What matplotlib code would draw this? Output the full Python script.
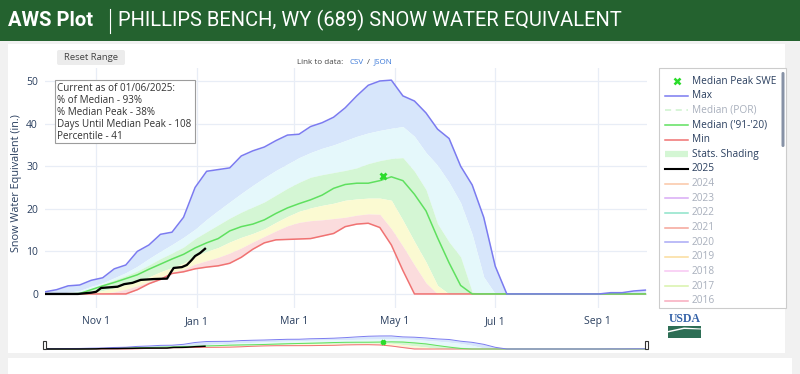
import numpy as np
import matplotlib
matplotlib.use("Agg")
import matplotlib.pyplot as plt
from matplotlib.patches import Rectangle, FancyBboxPatch, Polygon

plt.rcParams['font.family'] = ['Open Sans', 'DejaVu Sans']

# ---- data (day of water year, Oct 1 = 0) ----
days = np.arange(0, 365, 7)
max_swe = [0.5, 1.0, 1.9, 2.1, 3.2, 3.8, 5.9, 6.8, 10.0, 11.5, 14.0, 14.5,
           18.0, 25.0, 28.8, 29.2, 29.6, 32.4, 33.6, 34.5, 36.0, 37.3, 37.5, 39.3,
           40.2, 41.5, 43.7, 46.5, 49.0, 50.0, 50.2, 46.5, 45.3, 42.5, 38.7, 36.5,
           30.0, 25.6, 18.0, 6.5, 0, 0, 0, 0, 0, 0, 0, 0, 0, 0.3, 0.3, 0.7, 0.9]
p90 = [0, 0.1, 0.4, 0.8, 1.8, 2.6, 3.8, 5.0, 6.5, 8.3, 10.0, 11.6, 13.3, 15.2,
       17.5, 19.6, 21.6, 23.6, 25.5, 27.3, 29.0, 30.5, 32.0, 33.2, 34.2, 35.0,
       36.0, 37.0, 37.8, 38.4, 38.9, 39.3, 37.0, 33.2, 30.2, 26.2, 21.4, 14.0,
       4.0, 0, 0, 0, 0, 0, 0, 0, 0, 0, 0, 0, 0, 0, 0]
p70 = [0, 0, 0, 0.2, 1.3, 2.3, 3.3, 4.3, 5.4, 6.8, 8.3, 9.6, 11.0, 13.0,
       14.6, 16.2, 17.8, 19.2, 20.4, 21.6, 23.2, 24.8, 26.2, 27.4, 28.0, 28.5,
       29.0, 29.6, 30.6, 31.3, 31.8, 32.0, 28.8, 24.5, 16.5, 12.2, 8.7, 0.5,
       0, 0, 0, 0, 0, 0, 0, 0, 0, 0, 0, 0, 0, 0, 0]
median = [0, 0, 0, 0.1, 1.0, 1.9, 2.7, 3.6, 4.5, 5.8, 7.0, 8.2, 9.3, 10.8,
          12.0, 13.0, 14.8, 15.8, 16.4, 17.4, 18.9, 20.2, 21.2, 22.1, 23.2, 24.8,
          25.7, 26.0, 26.0, 26.6, 27.5, 26.6, 23.4, 19.5, 13.2, 7.3, 2.0, 0,
          0, 0, 0, 0, 0, 0, 0, 0, 0, 0, 0, 0, 0, 0, 0]
p30 = [0, 0, 0, 0, 0.3, 0.8, 1.4, 2.2, 3.0, 4.0, 5.2, 6.2, 7.2, 8.9,
       10.0, 10.9, 12.2, 13.3, 14.2, 15.3, 16.8, 18.2, 19.4, 20.2, 20.8, 21.3,
       22.0, 22.3, 22.5, 22.5, 22.0, 17.3, 12.3, 7.5, 2.0, 0,
       0, 0, 0, 0, 0, 0, 0, 0, 0, 0, 0, 0, 0, 0, 0, 0, 0]
p10 = [0, 0, 0, 0, 0, 0.1, 0.5, 1.1, 1.9, 2.9, 3.9, 5.1, 5.8, 7.0,
       7.8, 8.6, 9.6, 10.8, 12.2, 13.5, 14.8, 16.0, 16.8, 17.2, 17.4, 17.7,
       18.0, 18.5, 18.8, 18.7, 15.3, 11.2, 6.8, 2.6, 0,
       0, 0, 0, 0, 0, 0, 0, 0, 0, 0, 0, 0, 0, 0, 0, 0, 0, 0]
min_swe = [0, 0, 0, 0, 0, 0, 0, 0, 1.0, 2.4, 3.4, 4.8, 5.2, 5.9,
           6.3, 6.6, 7.2, 8.6, 10.5, 12.0, 12.7, 12.8, 12.9, 13.0, 13.6, 14.2,
           15.8, 16.4, 16.6, 15.6, 11.5, 5.5, 0,
           0, 0, 0, 0, 0, 0, 0, 0, 0, 0, 0, 0, 0, 0, 0, 0, 0, 0, 0, 0]

wy2025_days = [0, 20, 28, 31, 34, 44, 48, 53, 58, 66, 74, 76, 78, 83, 86, 89, 91, 94, 97]
wy2025_swe = [0, 0, 0.3, 0.5, 1.4, 1.7, 2.3, 2.6, 3.3, 3.5, 3.6, 4.9, 6.1, 6.3, 6.8,
              8.0, 8.9, 9.6, 10.6]

peak_day = 205
peak_swe = 27.6

tick_days = [31, 92, 151, 212, 273, 335]
tick_labels = ['Nov 1', 'Jan 1', 'Mar 1', 'May 1', 'Jul 1', 'Sep 1']

info_lines = ['Current as of 01/06/2025:', '% of Median - 93%', '% Median Peak - 38%',
              'Days Until Median Peak - 108', 'Percentile - 41']

legend_labels = ['Median Peak SWE', 'Max', 'Median (POR)', "Median ('91-'20)", 'Min',
                 'Stats. Shading', '2025', '2024', '2023', '2022', '2021', '2020',
                 '2019', '2018', '2017', '2016']
legend_on = [True, True, False, True, True, True, True] + [False] * 9
year_colors = ['#fbc6a6', '#d8abf5', '#8de3c9', '#f5a498', '#a9a9f5', '#fbdc9c',
               '#f8c6f2', '#d8f2ab', '#f8abbd']

C_MAX, C_MED, C_MIN = '#7b7bf0', '#5fe05f', '#f07272'
BANDS = ['#d7e6fb', '#e5f8fb', '#d4f6d4', '#fbfad2', '#fbdcdd']
TXT = '#2a3f5f'

W, H = 800, 374


def box(x0, y0, x1, y1):
    return [x0 / W, 1 - y1 / H, (x1 - x0) / W, (y1 - y0) / H]


fig = plt.figure(figsize=(8, 3.74), dpi=100, facecolor='#f1f1f1')

# page background
bg = fig.add_axes([0, 0, 1, 1], label='bg')
bg.set_xlim(0, W)
bg.set_ylim(H, 0)
bg.axis('off')
bg.add_patch(Rectangle((8, 44), 777, 309, fc='white', ec='none'))
bg.add_patch(Rectangle((8, 358), 784, 16, fc='white', ec='none'))
bg.add_patch(Rectangle((0, 0), W, 41, fc='#24622f', ec='none'))
tfont = ['Roboto', 'DejaVu Sans']
bg.text(8, 20, 'AWS Plot', color='white', fontsize=14.5, fontweight='bold',
        va='center', family=tfont)
bg.plot([109.5, 109.5], [9, 33], color='white', lw=0.8)
bg.text(118, 20, 'PHILLIPS BENCH, WY (689) SNOW WATER EQUIVALENT', color='white',
        fontsize=14.5, va='center', family=tfont)


def draw(a, lw, mk):
    a.fill_between(days, max_swe, p90, color=BANDS[0], lw=0)
    a.fill_between(days, p90, p70, color=BANDS[1], lw=0)
    a.fill_between(days, p70, p30, color=BANDS[2], lw=0)
    a.fill_between(days, p30, p10, color=BANDS[3], lw=0)
    a.fill_between(days, p10, min_swe, color=BANDS[4], lw=0)
    a.plot(days, min_swe, color=C_MIN, lw=lw)
    a.plot(days, median, color=C_MED, lw=lw)
    a.plot(days, max_swe, color=C_MAX, lw=lw)
    a.plot(wy2025_days, wy2025_swe, color='black', lw=lw * 1.5)
    a.plot([peak_day], [peak_swe], 'x', color='#2bdc2b', ms=mk, mew=2)


ax = fig.add_axes(box(45, 68, 647, 308))
ax.set_facecolor('white')
draw(ax, 1.1, 5)
ax.set_xlim(0, 365)
ax.set_ylim(-3.3, 53.05)
ax.set_xticks(tick_days)
ax.set_xticklabels(tick_labels)
ax.set_yticks([0, 10, 20, 30, 40, 50])
ax.grid(color='#e8edf6', lw=0.9)
ax.set_axisbelow(True)
for s in ax.spines.values():
    s.set_visible(False)
ax.tick_params(length=0, labelsize=7.5, labelcolor=TXT)
ax.tick_params(axis='x', pad=6)
ax.tick_params(axis='y', pad=5)

mini = fig.add_axes(box(45, 335, 647, 350))
draw(mini, 0.7, 3.5)
mini.set_xlim(0, 365)
mini.set_ylim(-3.85, 53.8)
mini.axis('off')

# overlay
fg = fig.add_axes([0, 0, 1, 1], label='fg')
fg.set_xlim(0, W)
fg.set_ylim(H, 0)
fg.axis('off')

fg.text(17, 183, 'Snow Water Equivalent (in.)', rotation=90, ha='center', va='center',
        fontsize=7.8, color=TXT)

for hx in (43, 645):
    fg.add_patch(Rectangle((hx, 341), 3, 8, fc='white', ec='#333333', lw=0.8))

fg.add_patch(FancyBboxPatch((57, 50), 68, 15, boxstyle='round,pad=0,rounding_size=2',
                            fc='#ececec', ec='none'))
fg.text(91, 57.5, 'Reset Range', ha='center', va='center', fontsize=6.8, color='#444444')

fg.text(297, 62, 'Link to data:', ha='left', va='center', fontsize=5.8, color='#444444')
fg.text(349, 62, 'CSV', ha='left', va='center', fontsize=5.8, color='#3a78d8')
fg.text(367, 62, '/', ha='left', va='center', fontsize=5.8, color='#444444')
fg.text(374, 62, 'JSON', ha='left', va='center', fontsize=5.8, color='#3a78d8')

fg.add_patch(Rectangle((55, 80), 140, 63, fc='white', ec='#9c9c9c', lw=0.8))
for i, line in enumerate(info_lines):
    fg.text(57, 88 + i * 12.2, line, ha='left', va='center', fontsize=7.1, color='#333333')

# legend
fg.add_patch(Rectangle((659, 68), 127, 240, fc='white', ec='#cccccc', lw=0.8))
fg.add_patch(FancyBboxPatch((781.5, 72), 3, 75, boxstyle='round,pad=0,rounding_size=1.5',
                            fc='#8792a6', ec='none'))
for i, lab in enumerate(legend_labels):
    y = 81 + i * 14.65
    if i == 0:
        fg.plot([676.5], [y], 'x', color='#2bdc2b', ms=4.5, mew=1.8)
    elif lab == 'Max':
        fg.plot([665, 688], [y, y], color=C_MAX, lw=1.1)
    elif lab == 'Median (POR)':
        fg.plot([665, 688], [y, y], color='#cdf3cd', lw=1.1, ls=(0, (4, 3)))
    elif lab.startswith("Median ("):
        fg.plot([665, 688], [y, y], color=C_MED, lw=1.1)
    elif lab == 'Min':
        fg.plot([665, 688], [y, y], color=C_MIN, lw=1.1)
    elif lab == 'Stats. Shading':
        fg.plot([665, 688], [y, y], color=BANDS[2], lw=4.5, solid_capstyle='butt')
    elif lab == '2025':
        fg.plot([665, 688], [y, y], color='black', lw=1.5)
    else:
        fg.plot([665, 688], [y, y], color=year_colors[i - 7], lw=1.1)
    fg.text(692, y, lab, ha='left', va='center', fontsize=7.3,
            color=TXT if legend_on[i] else '#a8afbc')

# USDA logo
fg.text(684.5, 319, 'USDA', ha='center', va='center', fontsize=8.5, fontweight='bold',
        color='#3462a8', family=['Liberation Serif', 'DejaVu Serif'])
fg.add_patch(Rectangle((668, 326), 33, 12, fc='#2d6e55', ec='none'))
fg.add_patch(Polygon([(668, 331), (684, 327.5), (701, 328.5), (701, 329.5), (684, 329), (668, 332.5)],
                     closed=True, fc='white', ec='none'))

fig.savefig('out.png', dpi=100, facecolor=fig.get_facecolor())
